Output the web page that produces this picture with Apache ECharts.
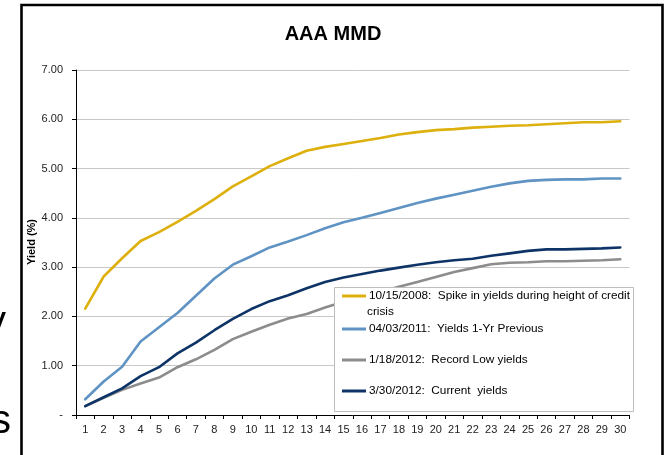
<!DOCTYPE html>
<html>
<head>
<meta charset="utf-8">
<script src="https://cdn.jsdelivr.net/npm/echarts@6/dist/echarts.min.js"></script>
<style>
html,body{margin:0;padding:0;background:#fff;}
#chart{width:666px;height:455px;}
</style>
</head>
<body>
<div id="chart"></div>
<script>
var maturities = ['1','2','3','4','5','6','7','8','9','10','11','12','13','14','15','16','17','18','19','20','21','22','23','24','25','26','27','28','29','30'];
var yTicks = [0,1,2,3,4,5,6,7];
var seriesNames = [
  '10/15/2008:  Spike in yields during height of credit crisis',
  '04/03/2011:  Yields 1-Yr Previous',
  '1/18/2012:  Record Low yields',
  '3/30/2012:  Current  yields'
];
var crisis2008 = [2.16,2.81,3.18,3.53,3.71,3.92,4.14,4.38,4.64,4.84,5.05,5.21,5.36,5.44,5.50,5.56,5.62,5.69,5.74,5.78,5.80,5.83,5.85,5.87,5.88,5.90,5.92,5.94,5.94,5.96];
var prev2011 = [0.32,0.68,0.98,1.49,1.78,2.07,2.42,2.77,3.05,3.22,3.40,3.52,3.65,3.79,3.91,4.00,4.10,4.20,4.30,4.39,4.47,4.55,4.63,4.70,4.75,4.77,4.78,4.78,4.80,4.80];
var low2012 = [0.18,0.35,0.51,0.64,0.76,0.97,1.13,1.32,1.54,1.69,1.83,1.96,2.05,2.18,2.30,2.40,2.50,2.60,2.70,2.80,2.90,2.98,3.06,3.09,3.10,3.12,3.12,3.13,3.14,3.16];
var current2012 = [0.18,0.36,0.54,0.79,0.97,1.25,1.47,1.72,1.95,2.15,2.31,2.43,2.57,2.70,2.79,2.86,2.93,2.99,3.05,3.10,3.14,3.17,3.23,3.28,3.33,3.36,3.36,3.37,3.38,3.40];

var colors = ['#DDB00E', '#5F93C4', '#8C8C8C', '#0E3467'];
var font = 'Liberation Sans, Arial, Helvetica, sans-serif';

var chart = echarts.init(document.getElementById('chart'), null, {renderer: 'canvas'});

function mkLegend(idx, top, label) {
  return {
    show: true,
    data: [seriesNames[idx]],
    left: 342,
    top: top,
    orient: 'vertical',
    padding: 0,
    icon: 'rect',
    itemWidth: 24,
    itemHeight: 3,
    z: 100,
    formatter: function () { return label; },
    textStyle: {fontSize: 11.8, color: '#000', fontFamily: font, lineHeight: 14, padding: [0,0,0,-2]},
    selectedMode: false
  };
}

var seriesData = [crisis2008, prev2011, low2012, current2012];
var series = seriesData.map(function (d, i) {
  return {
    name: seriesNames[i],
    type: 'line',
    data: d,
    symbol: 'none',
    smooth: false,
    lineStyle: {color: colors[i], width: 2.6, join: 'round', cap: 'round'},
    itemStyle: {color: colors[i]},
    z: 2 + i,
    animation: false
  };
});

var option = {
  animation: false,
  textStyle: {fontFamily: font},
  title: {
    text: 'AAA MMD',
    left: 'center',
    top: 24,
    padding: 0,
    textStyle: {fontSize: 20, fontWeight: 'bold', color: '#000', fontFamily: font}
  },
  grid: {left: 76, right: 36.5, top: 70, bottom: 40},
  xAxis: {
    type: 'category',
    data: maturities,
    boundaryGap: true,
    axisLine: {lineStyle: {color: '#000', width: 1}},
    axisTick: {show: true, length: 4, lineStyle: {color: '#000'}},
    axisLabel: {fontSize: 11, color: '#222', margin: 9, interval: 0, fontFamily: font},
    splitLine: {show: false}
  },
  yAxis: {
    type: 'value',
    min: yTicks[0],
    max: yTicks[yTicks.length - 1],
    interval: 1,
    axisLine: {show: true, lineStyle: {color: '#000', width: 1}},
    axisTick: {show: true, length: 4, lineStyle: {color: '#000'}},
    axisLabel: {
      fontSize: 11, color: '#222', margin: 13, fontFamily: font,
      formatter: function (v) { return v === 0 ? '-' : v.toFixed(2); }
    },
    splitLine: {show: true, lineStyle: {color: '#c8c8c8', width: 1}}
  },
  legend: [
    mkLegend(0, 289, '10/15/2008:  Spike in yields during height of credit'),
    mkLegend(1, 322, seriesNames[1]),
    mkLegend(2, 353, seriesNames[2]),
    mkLegend(3, 384, seriesNames[3])
  ],
  graphic: [
    {
      type: 'rect', z: 50,
      shape: {x: 334.5, y: 287.5, width: 299, height: 124},
      style: {fill: '#fff', stroke: '#bdbdbd', lineWidth: 1}
    },
    {
      type: 'text', z: 100,
      style: {text: 'crisis', x: 367, y: 312, fill: '#000', font: '11.8px ' + font, verticalAlign: 'middle', textVerticalAlign: 'middle'}
    },
    {
      type: 'text', z: 100,
      x: 32, y: 242, rotation: Math.PI / 2,
      style: {text: 'Yield (%)', fill: '#000', font: 'bold 11px ' + font, align: 'center', textAlign: 'center', verticalAlign: 'middle', textVerticalAlign: 'middle'}
    },
    {
      type: 'rect', z: 100,
      shape: {x: 21.5, y: 5, width: 641, height: 480},
      style: {fill: 'none', stroke: '#000', lineWidth: 2.6}
    },
    {
      type: 'text', z: 100,
      style: {text: 'y', x: 6, y: 303, fill: '#000', font: '40px ' + font, align: 'right', textAlign: 'right', verticalAlign: 'alphabetic', textVerticalAlign: 'alphabetic'}
    },
    {
      type: 'text', z: 100,
      style: {text: 's', x: 11, y: 402, fill: '#000', font: '40px ' + font, align: 'right', textAlign: 'right', verticalAlign: 'alphabetic', textVerticalAlign: 'alphabetic'}
    }
  ],
  series: series
};

chart.setOption(option);
</script>
</body>
</html>
